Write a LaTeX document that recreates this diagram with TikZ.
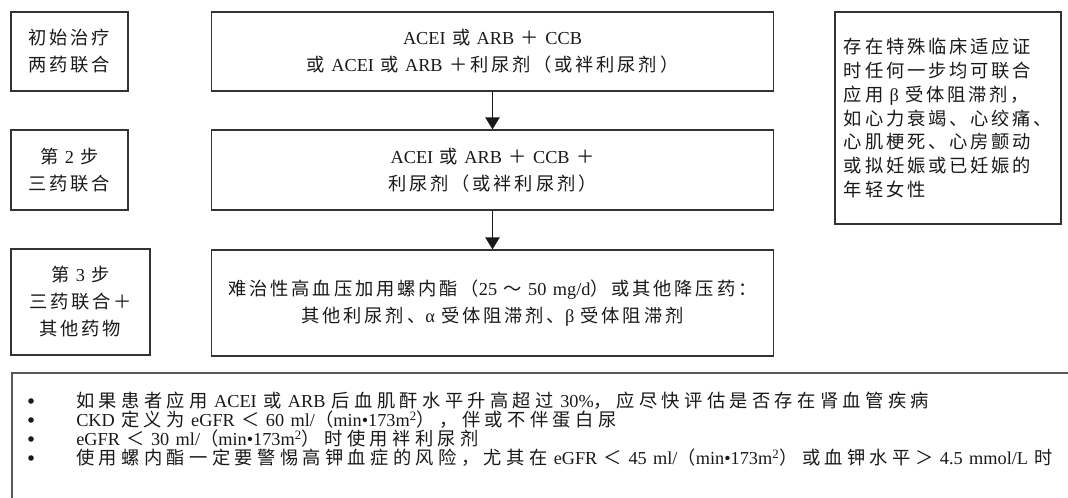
\documentclass[tikz,border=0pt]{standalone}
\usepackage{fontspec}
\setmainfont{Liberation Serif}[WordSpace=1.4]
\newfontfamily\cjkfont{Noto Sans CJK SC}
\usetikzlibrary{arrows.meta,positioning}

% Chinese characters in the CJK font, the rest in the serif font
\newXeTeXintercharclass\cjkclass
\newdimen\cjkgap
\cjkgap=2pt
\count255="4E00
\loop \XeTeXcharclass\count255=\cjkclass \ifnum\count255<"9FFF \advance\count255 by 1 \repeat
\count255="3000
\loop \XeTeXcharclass\count255=\cjkclass \ifnum\count255<"303F \advance\count255 by 1 \repeat
\count255="FF00
\loop \XeTeXcharclass\count255=\cjkclass \ifnum\count255<"FFEF \advance\count255 by 1 \repeat
\XeTeXinterchartoks 0 \cjkclass = {\cjkfont\relax}
\XeTeXinterchartoks 4095 \cjkclass = {\cjkfont\relax}
\XeTeXinterchartoks \cjkclass 0 = {\rmfamily\relax}
\XeTeXinterchartoks \cjkclass 4095 = {\rmfamily\relax}
\XeTeXinterchartoks \cjkclass \cjkclass = {\hskip\cjkgap}
\XeTeXinterchartokenstate=1
\newcommand\widegap{\cjkgap=3.1pt\relax}

\begin{document}
\begin{tikzpicture}[x=0.025cm, y=-0.025cm, >={Triangle[length=8.5pt,width=10pt]}]
    \tikzstyle{every node}=[text=black!90]
    \tikzstyle{box}=[draw=black!80, line width=0.8pt, inner sep=0pt, align=center,
        font=\fontsize{13pt}{19.2pt}\selectfont]
    \tikzstyle{step box}=[box, minimum width=2.925cm, minimum height=1.975cm]
    \tikzstyle{drug box}=[box, minimum width=\drugwidth, minimum height=1.975cm]
    \tikzstyle{side box}=[box, minimum width=5.65cm, minimum height=5.3cm, align=left,
        font=\fontsize{13pt}{16.9pt}\selectfont]
    \tikzstyle{note box}=[draw=black!65, line width=1.2pt, anchor=north west,
        minimum width=28cm, minimum height=5cm]
    \tikzstyle{note}=[anchor=base west, inner sep=0pt,
        font=\fontsize{13pt}{13.5pt}\selectfont\widegap]
    \tikzstyle{bullet}=[circle, fill=black!90, inner sep=0pt, minimum size=0.14cm]
    \tikzstyle{flow}=[->, line width=1.4pt, black!90]
    \def\drugwidth{14.025cm}

    \clip (0,0) rectangle (1068,498);

    % Draw the steps on the left
    \node[step box] (start) at (69.5,51.5) {初始治疗\\两药联合};
    \node[step box, minimum height=2cm] (second) at (69.5,170) {第 2 步\\三药联合};
    \node[step box, minimum width=3.475cm, minimum height=2.65cm] (third) at (80.5,302)
        {第 3 步\\三药联合＋\\其他药物};

    % Draw the drug combinations
    \node[drug box] (dual) at (492.5,51.5)
        {ACEI 或 ARB ＋ CCB\\或 ACEI 或 ARB ＋利尿剂（或袢利尿剂）};
    \node[drug box, minimum height=2cm] (triple) at (492.5,170)
        {ACEI 或 ARB ＋ CCB ＋\\利尿剂（或袢利尿剂）};
    \node[drug box, minimum height=2.65cm] (resistant) at (492.5,303)
        {难治性高血压加用螺内酯（25 ～ 50 mg/d）或其他降压药：\\其他利尿剂、α 受体阻滞剂、β 受体阻滞剂};

    % Connect the combinations
    \draw[flow] (dual) -- (triple);
    \draw[flow] (triple) -- (resistant);

    % Side remark
    \node[side box] (beta) at (948,118)
        {存在特殊临床适应证\\时任何一步均可联合\\应用\ β\ 受体阻滞剂，\\如心力衰竭、心绞痛、\\心肌梗死、心房颤动\\或拟妊娠或已妊娠的\\年轻女性};

    % Notes at the bottom
    \node[note box] (notes) at (11,372) {};
    \node[note] (note-1) at (76,408) {如果患者应用 ACEI 或 ARB 后血肌酐水平升高超过 30\%，应尽快评估是否存在肾血管疾病};
    \node[note] (note-2) at (76,427) {CKD 定义为 eGFR ＜ 60 ml/（min•173m\textsuperscript{2}），伴或不伴蛋白尿};
    \node[note] (note-3) at (76,446) {eGFR ＜ 30 ml/（min•173m\textsuperscript{2}）时使用袢利尿剂};
    \node[note] (note-4) at (76,465) {使用螺内酯一定要警惕高钾血症的风险，尤其在 eGFR ＜ 45 ml/（min•173m\textsuperscript{2}）或血钾水平＞ 4.5 mmol/L 时};
    \foreach \n/\y in {1/401,2/420,3/439,4/458}
        \node[bullet] (dot-\n) at (31,\y) {};

\end{tikzpicture}
\end{document}
